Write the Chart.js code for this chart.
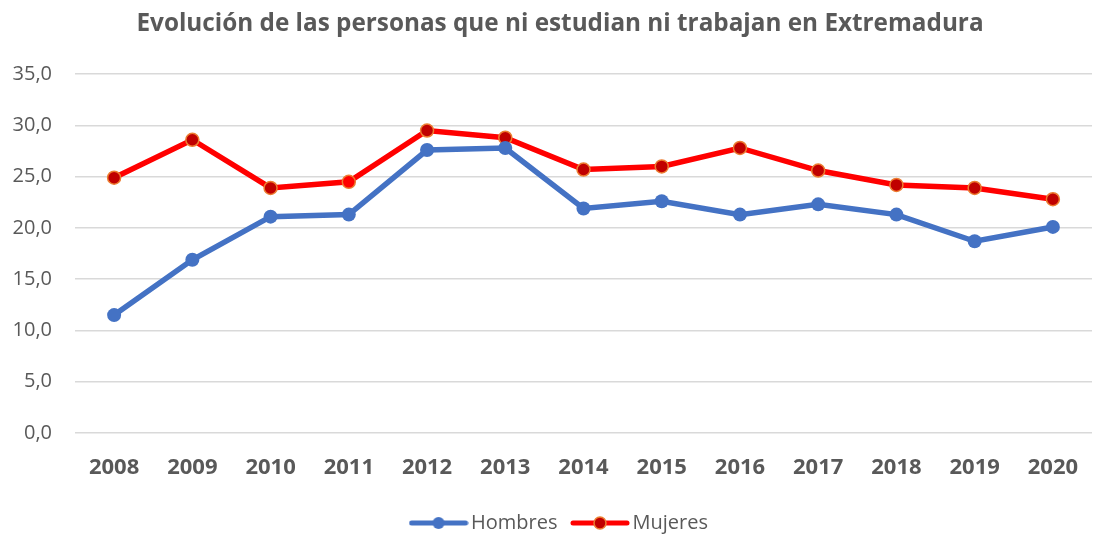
<!DOCTYPE html>
<html>
<head>
<meta charset="utf-8">
<script src="https://cdn.jsdelivr.net/npm/chart.js@4/dist/chart.umd.min.js"></script>
<style>
  html, body { margin: 0; padding: 0; background: #fff; }
  #wrap { width: 1104px; height: 534px; position: relative; }
</style>
</head>
<body>
<div id="wrap"><canvas id="chart"></canvas></div>
<script>
// ── Data ──
const years = ['2008', '2009', '2010', '2011', '2012', '2013', '2014', '2015', '2016', '2017', '2018', '2019', '2020'];
const hombres = [11.5, 16.9, 21.1, 21.3, 27.6, 27.8, 21.9, 22.6, 21.3, 22.3, 21.3, 18.7, 20.1];
const mujeres = [24.9, 28.6, 23.9, 24.5, 29.5, 28.8, 25.7, 26.0, 27.8, 25.6, 24.2, 23.9, 22.8];
const yTicks = [0, 5, 10, 15, 20, 25, 30, 35];

const BLUE = '#4472C4';
const RED = '#FF0000';
const DARKRED = '#C00000';
const ORANGE = '#ED7D31';
const GREY = '#595959';
const FONT = "'Open Sans', 'Liberation Sans', sans-serif";

// legend marker: short line with a dot in the middle
function legendIcon(line, fill, stroke) {
    const c = document.createElement('canvas');
    c.width = 60; c.height = 16;
    const g = c.getContext('2d');
    g.strokeStyle = line; g.lineWidth = 5; g.lineCap = 'round';
    g.beginPath(); g.moveTo(3, 8); g.lineTo(57, 8); g.stroke();
    g.beginPath(); g.arc(30, 8, 6, 0, Math.PI * 2);
    g.fillStyle = fill; g.fill();
    if (stroke) { g.lineWidth = 1.5; g.strokeStyle = stroke; g.stroke(); }
    return c;
}
const icons = [legendIcon(BLUE, BLUE), legendIcon(RED, DARKRED, ORANGE)];

// title and legend sit a little right of the canvas centre in the original
const nudge = {
    id: 'nudge',
    afterLayout(chart) {
        if (chart.titleBlock) { chart.titleBlock.left += 14; chart.titleBlock.right += 14; }
        if (chart.legend) { chart.legend.left += 16; chart.legend.right += 16; }
    }
};

const ctx = document.getElementById('chart').getContext('2d');
new Chart(ctx, {
    type: 'line',
    data: {
        labels: years,
        datasets: [{
            label: 'Hombres',
            data: hombres,
            borderColor: BLUE,
            backgroundColor: BLUE,
            borderWidth: 5.5,
            pointRadius: 7,
            pointBorderWidth: 0,
            pointBackgroundColor: BLUE,
            tension: 0
        }, {
            label: 'Mujeres',
            data: mujeres,
            borderColor: RED,
            backgroundColor: DARKRED,
            borderWidth: 5.5,
            pointRadius: 6.5,
            pointBorderWidth: 1.5,
            pointBorderColor: ORANGE,
            pointBackgroundColor: years.map(y => y === '2011' ? RED : DARKRED),
            tension: 0
        }]
    },
    plugins: [nudge],
    options: {
        responsive: true, maintainAspectRatio: false, animation: false,
        layout: { padding: { left: 0, right: 12, top: 2, bottom: -9 } },
        plugins: {
            title: {
                display: true,
                text: 'Evolución de las personas que ni estudian ni trabajan en Extremadura',
                color: GREY,
                font: { family: FONT, size: 24.3, weight: 'bold' },
                padding: { top: 7, bottom: 36 }
            },
            legend: {
                position: 'bottom',
                labels: {
                    color: GREY,
                    font: { family: FONT, size: 20 },
                    usePointStyle: true,
                    pointStyleWidth: 45,
                    boxHeight: 16,
                    padding: 20,
                    generateLabels: chart => chart.data.datasets.map((ds, i) => ({
                        text: ds.label,
                        pointStyle: icons[i],
                        fontColor: GREY,
                        datasetIndex: i,
                        hidden: false,
                        lineWidth: 0
                    }))
                }
            },
            tooltip: { enabled: false }
        },
        scales: {
            x: {
                offset: true,
                grid: { display: false },
                border: { display: false },
                afterFit: axis => { axis.height = 60; },
                ticks: { color: GREY, font: { family: FONT, size: 22, weight: 'bold' }, padding: 14 }
            },
            y: {
                min: 0, max: 35,
                afterBuildTicks: axis => { axis.ticks = yTicks.map(v => ({ value: v })); },
                afterFit: axis => { axis.width = 75; },
                grid: { color: '#D9D9D9', lineWidth: 1.5, drawTicks: false },
                border: { display: false },
                ticks: {
                    color: GREY, font: { family: FONT, size: 20 }, padding: 23,
                    callback: v => v.toFixed(1).replace('.', ',')
                }
            }
        }
    }
});
</script>
</body>
</html>
